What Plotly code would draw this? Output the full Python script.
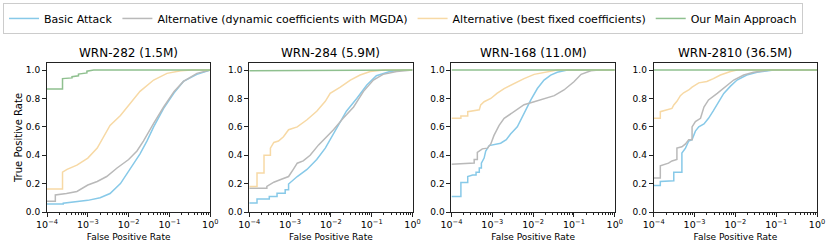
import plotly.graph_objects as go
from plotly.subplots import make_subplots

# Panel titles
titles = ["WRN-282 (1.5M)", "WRN-284 (5.9M)", "WRN-168 (11.0M)", "WRN-2810 (36.5M)"]
series_names = ["Basic Attack", "Alternative (dynamic coefficients with MGDA)",
                "Alternative (best fixed coefficients)", "Our Main Approach"]
colors = ["#87c9e8", "#b9b9b9", "#f7d9a5", "#8fc08f"]

x_tickvals = [1e-4, 1e-3, 1e-2, 1e-1, 1]
x_ticktext = ["10<sup>−4</sup>", "10<sup>−3</sup>", "10<sup>−2</sup>", "10<sup>−1</sup>", "10<sup>0</sup>"]
y_tickvals = [0, 0.2, 0.4, 0.6, 0.8, 1.0]

# ROC points (fpr, tpr), per panel
# --- WRN-282
p1_basic_fpr = [1e-4, 2.5e-4, 2.5e-4, 5e-4, 1e-3, 2e-3, 3.5e-3, 6.3e-3, 1e-2, 1.3e-2, 1.9e-2, 2.8e-2, 4.1e-2, 7.2e-2, 0.13, 0.22, 0.47, 1.0]
p1_basic_tpr = [0.056, 0.056, 0.062, 0.07, 0.082, 0.10, 0.13, 0.20, 0.29, 0.34, 0.41, 0.50, 0.60, 0.73, 0.84, 0.92, 0.97, 1.0]
p1_mgda_fpr = [1e-4, 1.6e-4, 1.6e-4, 3e-4, 5.4e-4, 1e-3, 1.7e-3, 2.9e-3, 5.2e-3, 1e-2, 1.6e-2, 2.3e-2, 4.1e-2, 7.2e-2, 0.13, 0.22, 0.47, 1.0]
p1_mgda_tpr = [0.075, 0.075, 0.12, 0.13, 0.145, 0.19, 0.215, 0.25, 0.31, 0.37, 0.43, 0.50, 0.625, 0.74, 0.85, 0.92, 0.977, 1.0]
p1_fixed_fpr = [1e-4, 2.4e-4, 2.4e-4, 3.1e-4, 5.4e-4, 1e-3, 1.7e-3, 2.4e-3, 3.5e-3, 6.3e-3, 1e-2, 1.9e-2, 4.1e-2, 8.7e-2, 0.19, 0.35, 1.0]
p1_fixed_tpr = [0.162, 0.162, 0.281, 0.30, 0.33, 0.38, 0.45, 0.53, 0.61, 0.68, 0.75, 0.85, 0.93, 0.977, 0.995, 1.0, 1.0]
p1_ours_fpr = [1e-4, 2.4e-4, 2.4e-4, 4.1e-4, 4.1e-4, 5.9e-4, 5.9e-4, 9.5e-4, 9.5e-4, 1.4e-3, 1.0]
p1_ours_tpr = [0.866, 0.866, 0.94, 0.945, 0.953, 0.96, 0.972, 0.98, 0.992, 1.0, 1.0]

# --- WRN-284
p2_basic_fpr = [1e-4, 1.55e-4, 1.55e-4, 3.1e-4, 3.1e-4, 4.8e-4, 4.8e-4, 7.6e-4, 7.6e-4, 9.2e-4, 9.2e-4, 1.5e-3, 2.6e-3, 4.5e-3, 7.3e-3, 1.05e-2, 1.5e-2, 2.4e-2, 4.3e-2, 7.6e-2, 0.13, 0.28, 0.6, 1.0]
p2_basic_tpr = [0.063, 0.063, 0.091, 0.091, 0.11, 0.11, 0.133, 0.133, 0.157, 0.157, 0.197, 0.25, 0.30, 0.37, 0.45, 0.53, 0.60, 0.71, 0.80, 0.895, 0.96, 0.99, 1.0, 1.0]
p2_mgda_fpr = [1e-4, 2.7e-4, 2.7e-4, 4e-4, 5.7e-4, 9.2e-4, 1.2e-3, 1.5e-3, 2.1e-3, 3.1e-3, 5e-3, 8e-3, 1.16e-2, 2e-2, 3.6e-2, 6.3e-2, 0.11, 0.19, 0.41, 1.0]
p2_mgda_tpr = [0.168, 0.168, 0.18, 0.21, 0.227, 0.25, 0.30, 0.344, 0.36, 0.40, 0.473, 0.53, 0.58, 0.66, 0.74, 0.85, 0.93, 0.97, 0.99, 1.0]
p2_fixed_fpr = [1e-4, 1.55e-4, 1.55e-4, 2.3e-4, 2.3e-4, 3.3e-4, 3.3e-4, 4e-4, 5.2e-4, 6.9e-4, 9.2e-4, 1.5e-3, 2.6e-3, 4.5e-3, 7.3e-3, 9.6e-3, 1.7e-2, 3e-2, 5.2e-2, 9.2e-2, 0.2, 1.0]
p2_fixed_tpr = [0.18, 0.18, 0.274, 0.274, 0.40, 0.40, 0.45, 0.49, 0.50, 0.53, 0.58, 0.60, 0.65, 0.71, 0.78, 0.836, 0.88, 0.93, 0.965, 0.99, 1.0, 1.0]
p2_ours_fpr = [1e-4, 1e-2, 3e-2, 1.0]
p2_ours_tpr = [0.995, 0.995, 1.0, 1.0]

# --- WRN-168
p3_basic_fpr = [1e-4, 1.7e-4, 1.7e-4, 2.5e-4, 2.5e-4, 3.3e-4, 4e-4, 4e-4, 4.8e-4, 4.8e-4, 5.4e-4, 5.4e-4, 6.3e-4, 6.9e-4, 8.4e-4, 1.2e-3, 1.6e-3, 2.2e-3, 2.8e-3, 4.1e-3, 6e-3, 8.8e-3, 1.27e-2, 1.85e-2, 2.7e-2, 3.9e-2, 6.9e-2, 1.0]
p3_basic_tpr = [0.11, 0.11, 0.208, 0.208, 0.25, 0.26, 0.26, 0.28, 0.28, 0.31, 0.31, 0.344, 0.38, 0.43, 0.468, 0.48, 0.485, 0.51, 0.55, 0.60, 0.695, 0.79, 0.87, 0.93, 0.965, 0.985, 1.0, 1.0]
p3_mgda_fpr = [1e-4, 2.8e-4, 3.6e-4, 3.6e-4, 4.3e-4, 4.3e-4, 5.7e-4, 7.6e-4, 9.2e-4, 1.1e-3, 1.47e-3, 1.95e-3, 3.4e-3, 6e-3, 1.06e-2, 1.85e-2, 3.3e-2, 5.7e-2, 0.10, 0.15, 0.26, 0.4, 1.0]
p3_mgda_tpr = [0.337, 0.345, 0.345, 0.37, 0.37, 0.42, 0.445, 0.45, 0.48, 0.54, 0.61, 0.66, 0.71, 0.756, 0.777, 0.796, 0.82, 0.86, 0.918, 0.97, 0.995, 1.0, 1.0]
p3_fixed_fpr = [1e-4, 1.7e-4, 1.7e-4, 2.5e-4, 2.5e-4, 4.8e-4, 5.2e-4, 6.3e-4, 9.2e-4, 1.3e-3, 1.95e-3, 3.4e-3, 6e-3, 1.06e-2, 1.85e-2, 3.9e-2, 1.0]
p3_fixed_tpr = [0.66, 0.66, 0.677, 0.677, 0.707, 0.72, 0.755, 0.777, 0.80, 0.836, 0.87, 0.906, 0.94, 0.97, 0.985, 1.0, 1.0]
p3_ours_fpr = [1e-4, 1.0]
p3_ours_tpr = [1.0, 1.0]

# --- WRN-2810
p4_basic_fpr = [1e-4, 1.45e-4, 1.45e-4, 2.3e-4, 3.1e-4, 3.1e-4, 4.9e-4, 4.9e-4, 6e-4, 7.2e-4, 8.7e-4, 1.05e-3, 1.27e-3, 1.7e-3, 2.2e-3, 2.9e-3, 3.9e-3, 5.2e-3, 7.6e-3, 1.1e-2, 1.9e-2, 3.4e-2, 8.7e-2, 1.0]
p4_basic_tpr = [0.187, 0.187, 0.215, 0.22, 0.22, 0.28, 0.28, 0.415, 0.45, 0.50, 0.51, 0.57, 0.60, 0.62, 0.66, 0.714, 0.777, 0.836, 0.887, 0.93, 0.965, 0.985, 1.0, 1.0]
p4_mgda_fpr = [1e-4, 1.45e-4, 1.45e-4, 2.3e-4, 2.8e-4, 3.4e-4, 3.7e-4, 3.7e-4, 4.9e-4, 6e-4, 7.2e-4, 8.7e-4, 8.7e-4, 1.05e-3, 1.4e-3, 1.7e-3, 2.2e-3, 3.6e-3, 5.7e-3, 9.1e-3, 1.6e-2, 2.8e-2, 7.2e-2, 1.0]
p4_mgda_tpr = [0.239, 0.239, 0.325, 0.344, 0.36, 0.37, 0.37, 0.45, 0.46, 0.48, 0.51, 0.51, 0.60, 0.637, 0.66, 0.74, 0.79, 0.836, 0.88, 0.93, 0.965, 0.985, 1.0, 1.0]
p4_fixed_fpr = [1e-4, 1.45e-4, 1.45e-4, 2.3e-4, 2.8e-4, 3.1e-4, 3.7e-4, 4.5e-4, 5.4e-4, 7.2e-4, 8.7e-4, 1.27e-3, 2e-3, 2.9e-3, 4.3e-3, 7.6e-3, 1.1e-2, 1.0]
p4_fixed_tpr = [0.66, 0.66, 0.707, 0.72, 0.73, 0.754, 0.78, 0.82, 0.84, 0.86, 0.88, 0.91, 0.92, 0.94, 0.965, 0.99, 1.0, 1.0]
p4_ours_fpr = [1e-4, 1.0]
p4_ours_tpr = [1.0, 1.0]

panels = [
    [(p1_basic_fpr, p1_basic_tpr), (p1_mgda_fpr, p1_mgda_tpr), (p1_fixed_fpr, p1_fixed_tpr), (p1_ours_fpr, p1_ours_tpr)],
    [(p2_basic_fpr, p2_basic_tpr), (p2_mgda_fpr, p2_mgda_tpr), (p2_fixed_fpr, p2_fixed_tpr), (p2_ours_fpr, p2_ours_tpr)],
    [(p3_basic_fpr, p3_basic_tpr), (p3_mgda_fpr, p3_mgda_tpr), (p3_fixed_fpr, p3_fixed_tpr), (p3_ours_fpr, p3_ours_tpr)],
    [(p4_basic_fpr, p4_basic_tpr), (p4_mgda_fpr, p4_mgda_tpr), (p4_fixed_fpr, p4_fixed_tpr), (p4_ours_fpr, p4_ours_tpr)],
]

font = "DejaVu Sans"
axcol = "#222"
fig = make_subplots(rows=1, cols=4, subplot_titles=titles, horizontal_spacing=0.0506)

for c, curves in enumerate(panels):
    for k, (fpr, tpr) in enumerate(curves):
        fig.add_trace(go.Scatter(x=fpr, y=tpr, mode="lines", name=series_names[k],
                                 line=dict(color=colors[k], width=1.5),
                                 showlegend=(c == 0)), row=1, col=c + 1)
    fig.update_xaxes(type="log", range=[-4, 0], tickvals=x_tickvals, ticktext=x_ticktext,
                     showgrid=False, zeroline=False, showline=True, mirror=True, automargin=False,
                     linecolor=axcol, linewidth=1, ticks="outside", ticklen=4,
                     tickcolor=axcol, tickfont=dict(size=9.5, color="black"),
                     minor=dict(ticks="outside", ticklen=2, tickcolor=axcol, dtick="D1", showgrid=False),
                     title=dict(text="False Positive Rate", font=dict(size=9, color="black"), standoff=4),
                     row=1, col=c + 1)
    fig.update_yaxes(range=[0, 1.05], tickvals=y_tickvals, tickformat=".1f",
                     showgrid=False, zeroline=False, showline=True, mirror=True, automargin=False,
                     linecolor=axcol, linewidth=1, ticks="outside", ticklen=4,
                     tickcolor=axcol, tickfont=dict(size=9, color="black"),
                     row=1, col=c + 1)

fig.update_yaxes(title=dict(text="True Positive Rate", font=dict(size=10, color="black"), standoff=1), row=1, col=1)

for a in fig.layout.annotations:
    a.font = dict(size=12, color="black", family=font)
    a.yshift = 1

fig.update_layout(
    width=830, height=250,
    margin=dict(l=47, r=13, t=63, b=38, autoexpand=False),
    paper_bgcolor="white", plot_bgcolor="white",
    font=dict(family=font, color="black"),
    legend=dict(orientation="h", x=-0.0571, xanchor="left", y=1.403, yanchor="top",
                font=dict(size=11, color="black"), bordercolor="#cccccc", borderwidth=1,
                itemwidth=30, tracegroupgap=0),
)

# page body has a default 8px margin; drop it so the figure sits at the window corner
fig.write_html("out.html", config={"displayModeBar": False},
               post_script="document.body.style.margin='0px';")
